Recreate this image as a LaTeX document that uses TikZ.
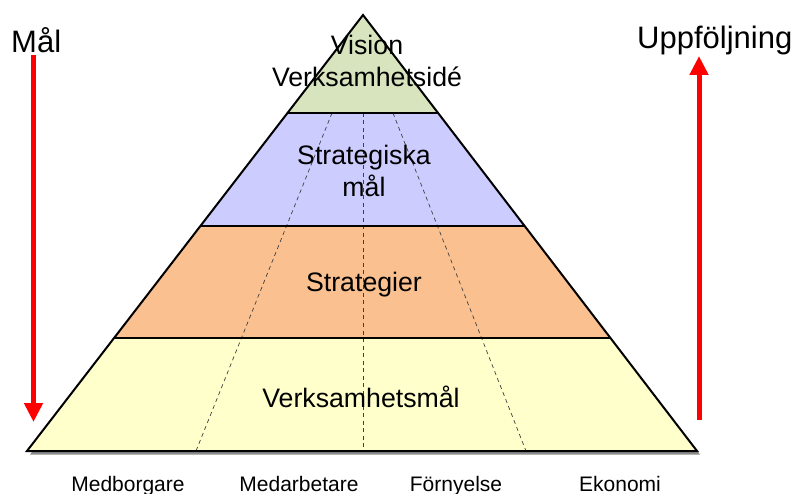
\documentclass[tikz,border=0pt]{standalone}
\usepackage{fontspec}
\setmainfont{Liberation Sans}
\usetikzlibrary{arrows.meta}
\definecolor{lvgreen}{HTML}{D7E4BD}
\definecolor{lvblue}{HTML}{CCCCFF}
\definecolor{lvorange}{HTML}{FAC090}
\definecolor{lvyellow}{HTML}{FFFFCC}
\definecolor{lvred}{HTML}{FF0000}
\begin{document}
\begin{tikzpicture}[x=1pt,y=-1pt,
  outline/.style={draw=black,line width=2pt,line join=miter},
  sep/.style={draw=black,line width=2pt},
  divider/.style={draw=black!75,line width=0.7pt,dash pattern=on 4pt off 3.5pt},
  lvltext/.style={anchor=base,inner sep=0pt,font=\fontsize{26.7}{30}\selectfont},
  sidetext/.style={anchor=base west,inner sep=0pt,font=\fontsize{31}{36}\selectfont},
  bottext/.style={anchor=base,inner sep=0pt,font=\fontsize{21}{25}\selectfont},
  redarrow/.style={draw=lvred,line width=5pt,-{Triangle[width=18pt,length=19pt]}}]
\useasboundingbox (0,0) rectangle (803,494);
% shadow
\fill[black!45] (366,18) -- (700,454.5) -- (30,454.5) -- cycle;
% levels
\fill[lvgreen] (363,15) -- (438.3,113) -- (287.7,113) -- cycle;
\fill[lvblue] (287.7,113) -- (438.3,113) -- (525.1,226) -- (200.9,226) -- cycle;
\fill[lvorange] (200.9,226) -- (525.1,226) -- (611.2,338) -- (114.8,338) -- cycle;
\fill[lvyellow] (114.8,338) -- (611.2,338) -- (697,451) -- (27,451) -- cycle;
% dashed dividers
\draw[divider] (332,113) -- (196,451);
\draw[divider] (363,113) -- (363,451);
\draw[divider] (393,113) -- (526,451);
% separators
\draw[sep] (287.7,113) -- (438.3,113);
\draw[sep] (200.9,226) -- (525.1,226);
\draw[sep] (114.8,338) -- (611.2,338);
\draw[outline] (363,15) -- (697,451) -- (27,451) -- cycle;
% level texts
\node[lvltext] (vision) at (367,55) {Vision};
\node[lvltext] (idea) at (367,87) {Verksamhetsidé};
\node[lvltext] (strat1) at (364,165) {Strategiska};
\node[lvltext] (strat2) at (364,197) {mål};
\node[lvltext] (strategier) at (364,291) {Strategier};
\node[lvltext] (vmal) at (361,407) {Verksamhetsmål};
% side texts
\node[sidetext] (mal) at (11,53) {Mål};
\node[sidetext] (uppf) at (637,49) {Uppföljning};
% arrows
\coordinate (la1) at (33.5,55);
\coordinate (la2) at (33.5,422);
\coordinate (ra1) at (699,420);
\coordinate (ra2) at (699,56);
\draw[redarrow] (la1) -- (la2);
\draw[redarrow] (ra1) -- (ra2);
% bottom labels
\node[bottext] (medb) at (128,491) {Medborgare};
\node[bottext] (meda) at (299,491) {Medarbetare};
\node[bottext] (forn) at (456,491) {Förnyelse};
\node[bottext] (ekon) at (620,491) {Ekonomi};
\end{tikzpicture}
\end{document}
